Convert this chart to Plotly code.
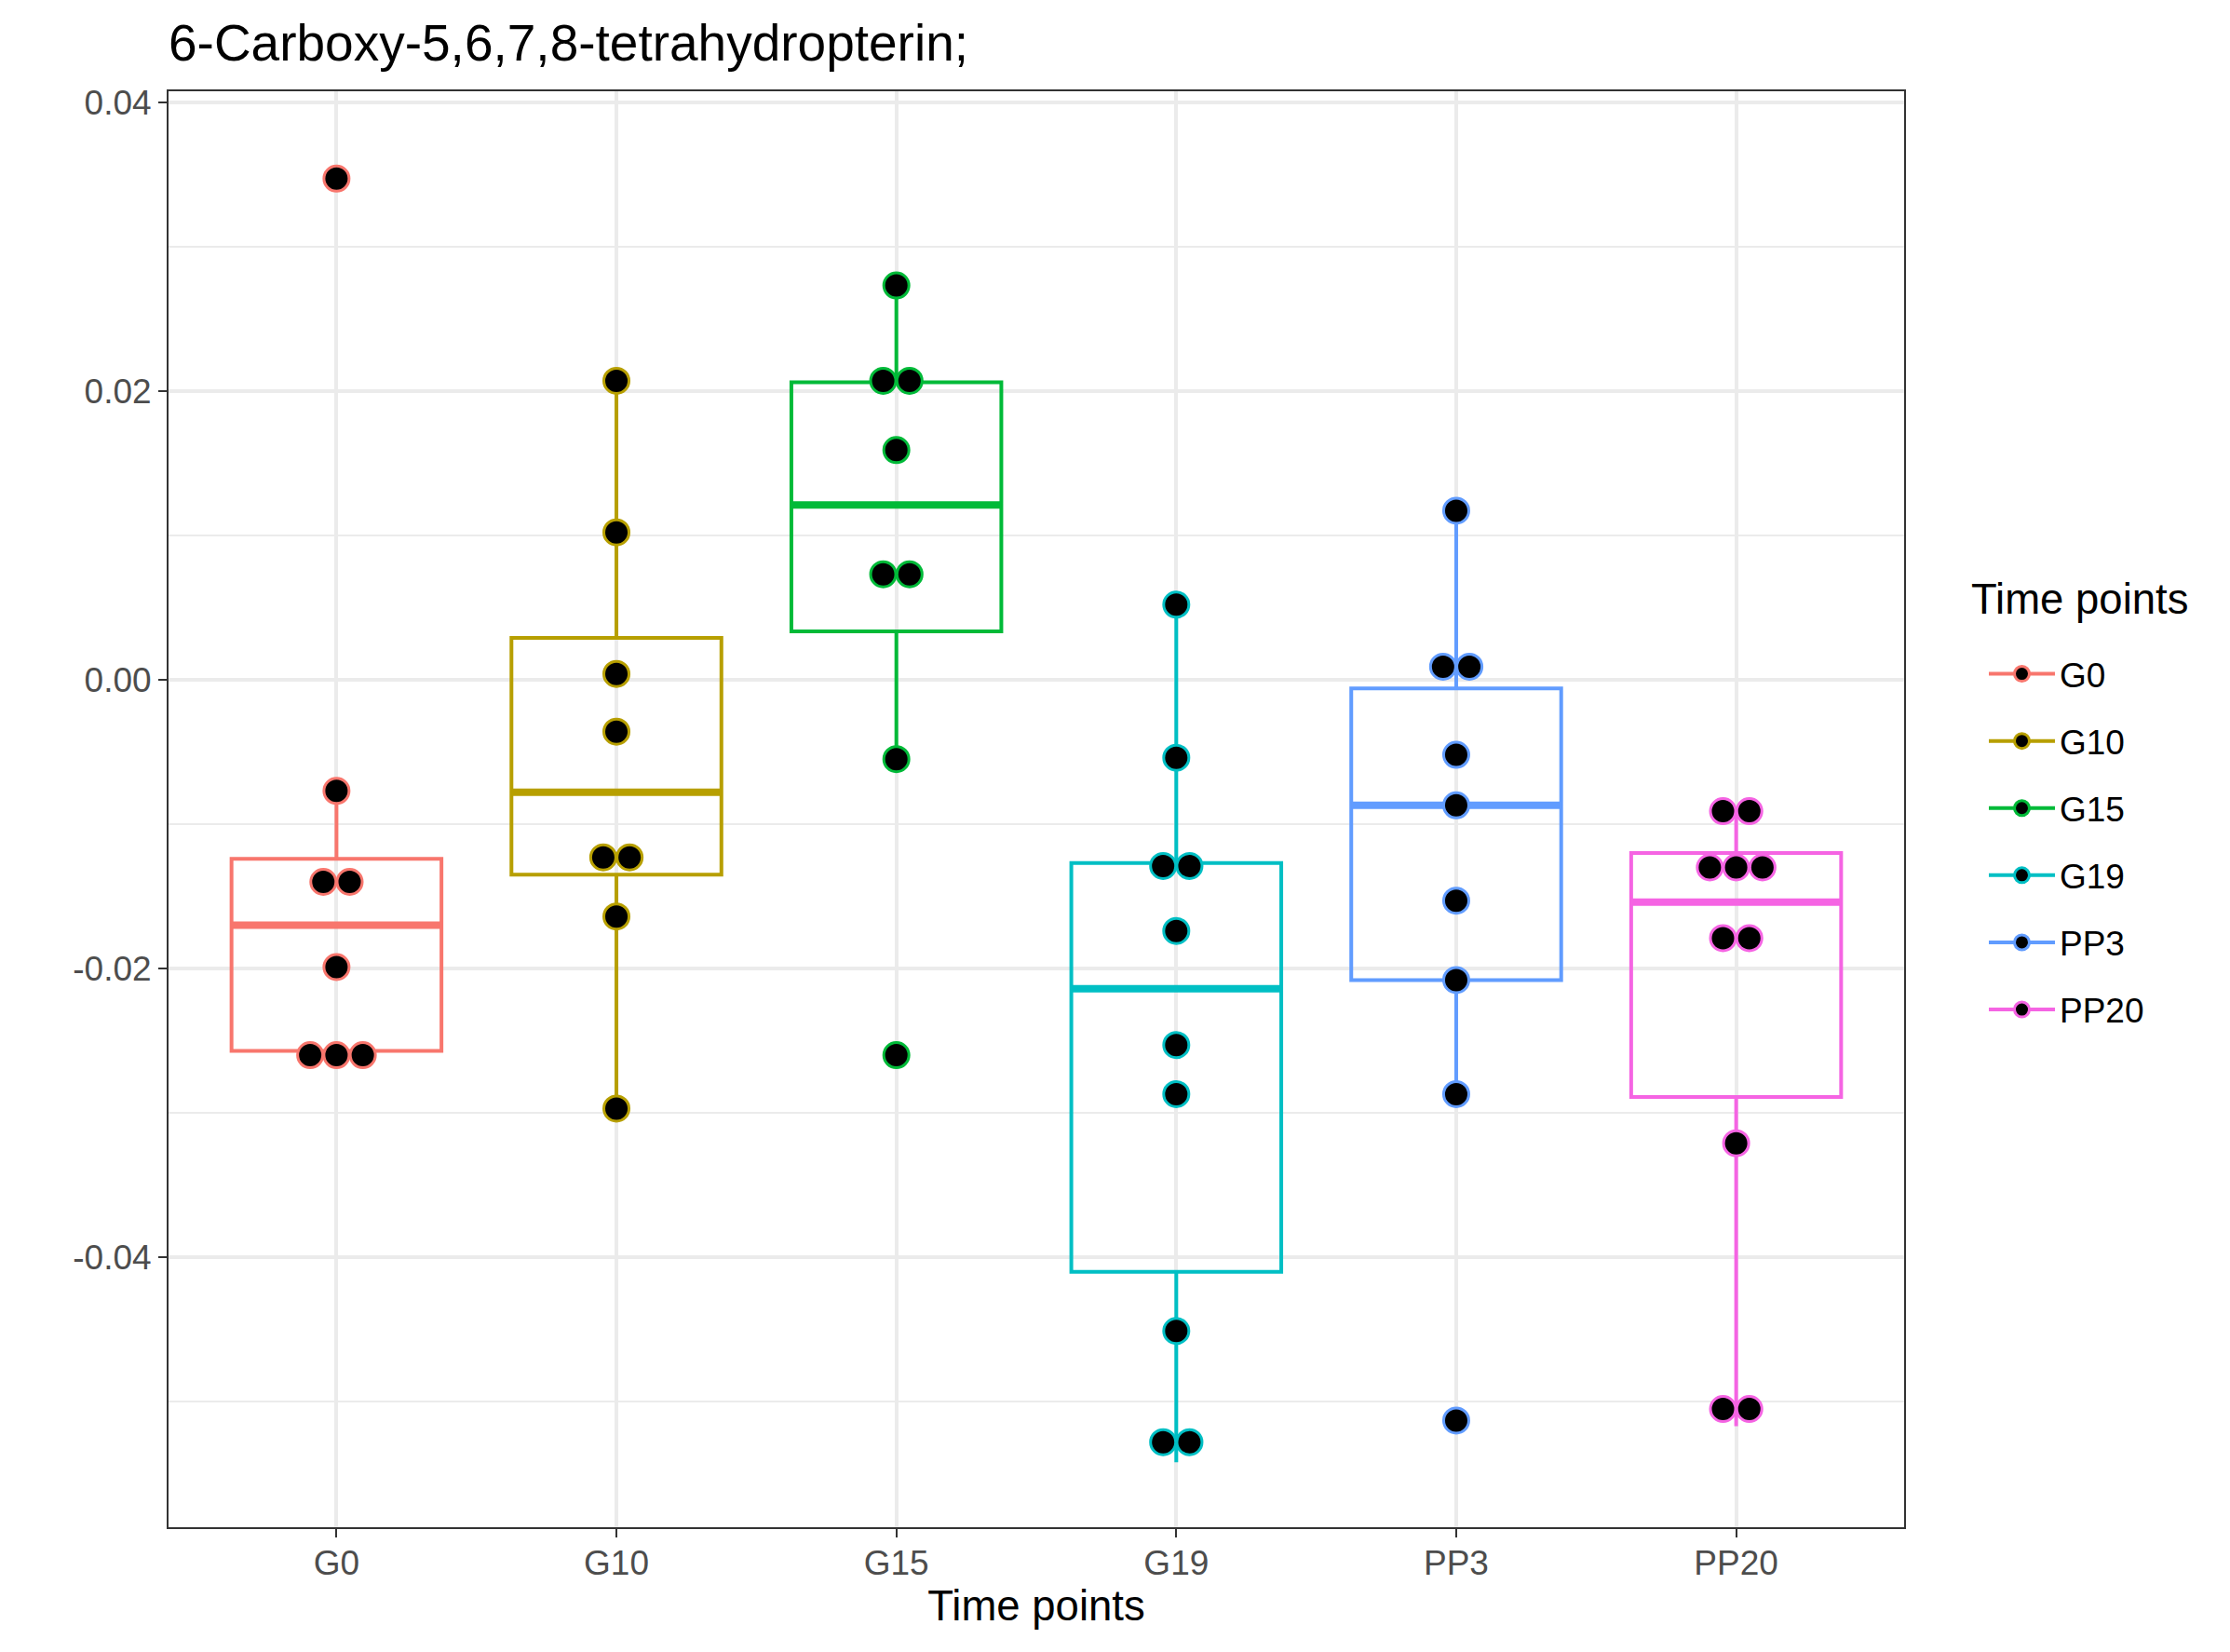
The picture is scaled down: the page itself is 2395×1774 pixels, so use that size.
import plotly.graph_objects as go

groups = ["G0", "G10", "G15", "G19", "PP3", "PP20"]
colors = ["#F8766D", "#B79F00", "#00BA38", "#00BFC4", "#619CFF", "#F564E3"]

# box statistics per group
q1 = [-0.0257, -0.0135, 0.00335, -0.0410, -0.0208, -0.0289]
median = [-0.0170, -0.0078, 0.0121, -0.0214, -0.0087, -0.0154]
q3 = [-0.0124, 0.0029, 0.0206, -0.0127, -0.0006, -0.0120]
lower_whisker = [-0.0257, -0.0297, -0.0055, -0.0542, -0.0287, -0.0517]
upper_whisker = [-0.0077, 0.0207, 0.0273, 0.0052, 0.0117, -0.0091]

# dot values (binned, as drawn)
dots_G0 = [0.0347, -0.0077, -0.0140, -0.0140, -0.0199, -0.0260, -0.0260, -0.0260]
dots_G10 = [0.0207, 0.0102, 0.0004, -0.0036, -0.0123, -0.0123, -0.0164, -0.0297]
dots_G15 = [0.0273, 0.0207, 0.0207, 0.0159, 0.0073, 0.0073, -0.0055, -0.0260]
dots_G19 = [0.0052, -0.0054, -0.0129, -0.0129, -0.0174, -0.0253, -0.0287, -0.0451, -0.0528, -0.0528]
dots_PP3 = [0.0117, 0.0009, 0.0009, -0.0052, -0.0087, -0.0153, -0.0208, -0.0287, -0.0513]
dots_PP20 = [-0.0091, -0.0091, -0.0130, -0.0130, -0.0130, -0.0179, -0.0179, -0.0321, -0.0505, -0.0505]
dots = [dots_G0, dots_G10, dots_G15, dots_G19, dots_PP3, dots_PP20]

y_tickvals = [-0.04, -0.02, 0.0, 0.02, 0.04]
y_ticktext = ["-0.04", "-0.02", "0.00", "0.02", "0.04"]
y_minor = [-0.05, -0.03, -0.01, 0.01, 0.03]

BOX_W = 0.75
DOT_STEP = 0.094

fig = go.Figure()

for i, g in enumerate(groups):
    xpos = i + 1
    fig.add_trace(go.Box(
        x=[xpos], q1=[q1[i]], median=[median[i]], q3=[q3[i]],
        lowerfence=[lower_whisker[i]], upperfence=[upper_whisker[i]],
        name=g, legendgroup=g, width=BOX_W, whiskerwidth=0,
        fillcolor="rgba(255,255,255,0)",
        line=dict(color=colors[i], width=4),
        boxpoints=False, hoverinfo="skip", showlegend=False,
    ))
    # thicker median line
    fig.add_trace(go.Scatter(
        x=[xpos - BOX_W / 2, xpos + BOX_W / 2], y=[median[i], median[i]],
        mode="lines", line=dict(color=colors[i], width=8),
        showlegend=False, hoverinfo="skip",
    ))
    # stacked dots (centered stacking of equal values)
    vals = dots[i]
    xs, ys = [], []
    seen = {}
    counts = {}
    for v in vals:
        counts[v] = counts.get(v, 0) + 1
    for v in vals:
        k = seen.get(v, 0)
        seen[v] = k + 1
        n = counts[v]
        xs.append(xpos + (k - (n - 1) / 2) * DOT_STEP)
        ys.append(v)
    fig.add_trace(go.Scatter(
        x=xs, y=ys, mode="markers",
        marker=dict(color="black", size=27, line=dict(color=colors[i], width=3)),
        showlegend=False, hoverinfo="skip",
    ))

# legend keys
for i, g in enumerate(groups):
    fig.add_trace(go.Scatter(
        x=[None], y=[None], mode="lines+markers", name=g, legendgroup=g,
        line=dict(color=colors[i], width=4),
        marker=dict(color="black", size=16, line=dict(color=colors[i], width=3)),
        showlegend=True, hoverinfo="skip",
    ))

font_family = "Liberation Sans, Arial, Helvetica, sans-serif"

fig.update_layout(
    width=2395, height=1774,
    paper_bgcolor="white", plot_bgcolor="white",
    margin=dict(l=173, r=358, t=90, b=142),
    font=dict(family=font_family, color="black"),
    title=dict(text="6-Carboxy-5,6,7,8-tetrahydropterin;", x=173 / 2395, xanchor="left",
               xref="container", y=1 - 38 / 1774, yanchor="middle", yref="container",
               font=dict(size=55, color="black")),
    showlegend=True,
    legend=dict(
        font=dict(size=37, color="black"),
        x=(2123 - 173) / 1864, xanchor="left", y=(1632 - 685) / 1542, yanchor="top",
        tracegroupgap=21, bgcolor="rgba(0,0,0,0)", itemwidth=71,
    ),
    annotations=[dict(
        text="Time points", xref="paper", yref="paper",
        x=(2115 - 8 - 173) / 1864, xanchor="left",
        y=(1632 - (643 - 8)) / 1542, yanchor="middle",
        showarrow=False, font=dict(size=45.5, color="black"),
    )],
    xaxis=dict(
        range=[0.4, 6.6], tickmode="array", tickvals=list(range(1, len(groups) + 1)),
        ticktext=groups, showgrid=True, gridcolor="#EBEBEB", gridwidth=4,
        ticks="outside", ticklen=9, tickwidth=2, tickcolor="#333333",
        tickfont=dict(size=37, color="#4D4D4D"), ticklabelstandoff=-4,
        showline=True, mirror=True, linecolor="#333333", linewidth=2,
        zeroline=False,
        title=dict(text="Time points", font=dict(size=45.5, color="black"), standoff=9),
    ),
    yaxis=dict(
        range=[-0.05869, 0.04075], tickmode="array", tickvals=y_tickvals, ticktext=y_ticktext,
        showgrid=True, gridcolor="#EBEBEB", gridwidth=4,
        minor=dict(tickmode="array", tickvals=y_minor, showgrid=True, gridcolor="#EBEBEB",
                   gridwidth=2, ticks=""),
        ticks="outside", ticklen=9, tickwidth=2, tickcolor="#333333",
        tickfont=dict(size=37, color="#4D4D4D"),
        showline=True, mirror=True, linecolor="#333333", linewidth=2,
        zeroline=False,
    ),
)

fig.write_html("out.html")
